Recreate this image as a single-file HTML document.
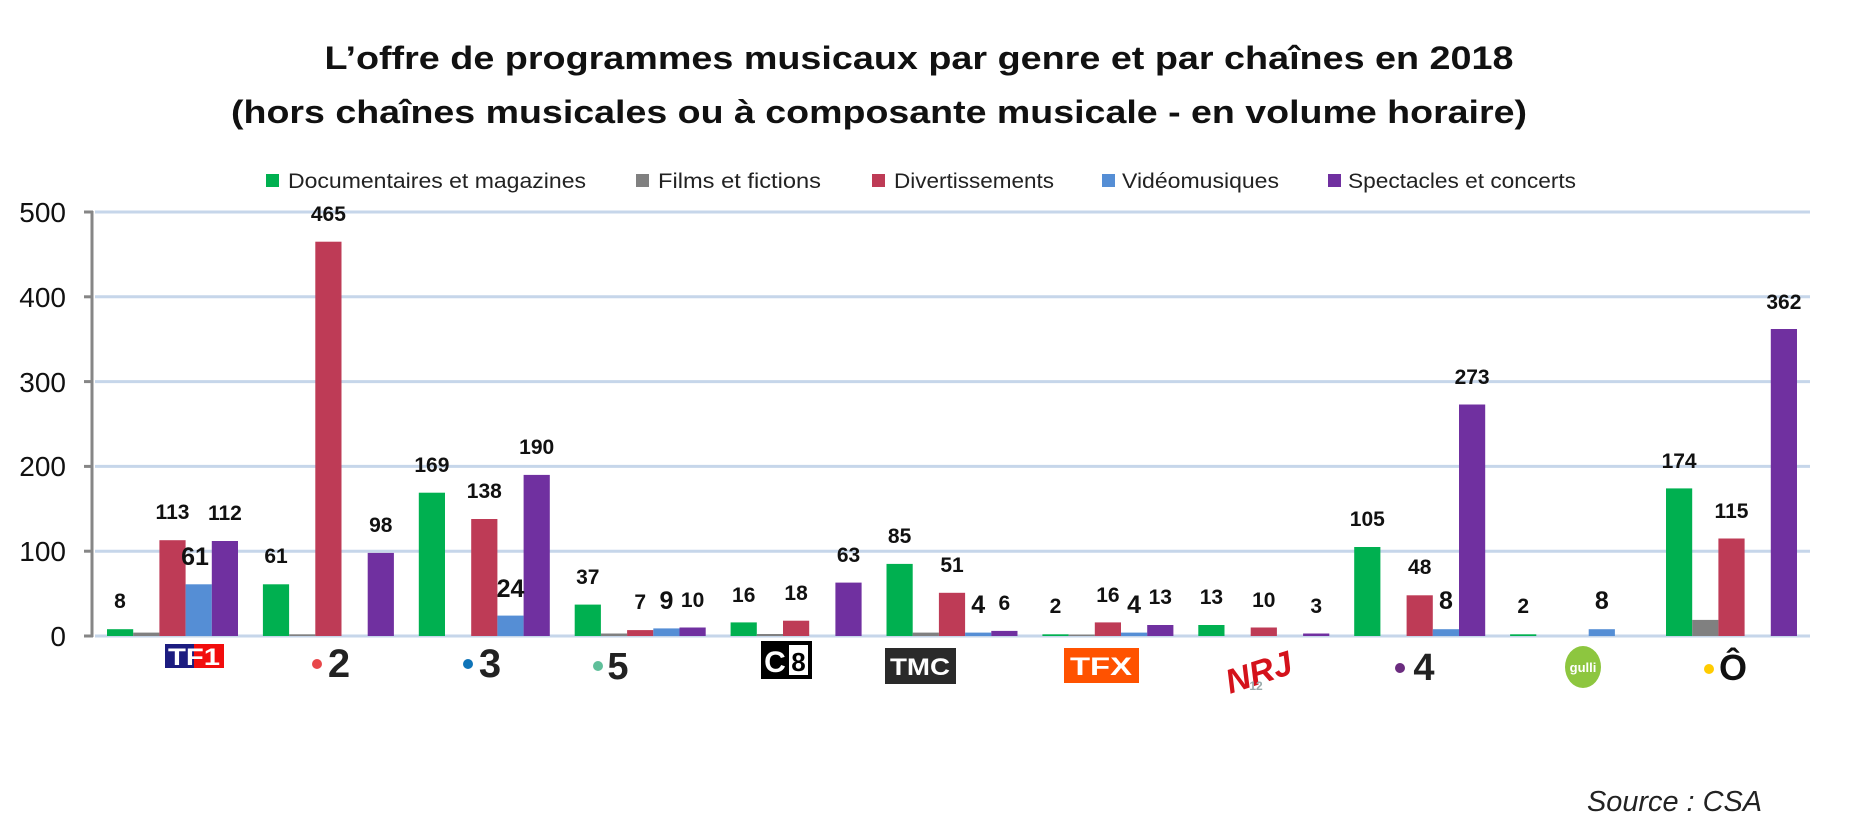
<!DOCTYPE html>
<html><head><meta charset="utf-8">
<style>
html,body{margin:0;padding:0;background:#fff;}
svg{display:block;}
text{font-family:"Liberation Sans",sans-serif;}
</style></head>
<body>
<svg width="1870" height="838" viewBox="0 0 1870 838" xmlns="http://www.w3.org/2000/svg">
<rect width="1870" height="838" fill="#fff"/>
<text x="919" y="69" font-size="32" font-weight="bold" text-anchor="middle" textLength="1189" lengthAdjust="spacingAndGlyphs" fill="#111">L’offre de programmes musicaux par genre et par chaînes en 2018</text>
<text x="879" y="123" font-size="32" font-weight="bold" text-anchor="middle" textLength="1296" lengthAdjust="spacingAndGlyphs" fill="#111">(hors chaînes musicales ou à composante musicale - en volume horaire)</text>
<g font-size="21" fill="#222">
<rect x="266" y="174" width="13" height="13" fill="#00b050"/><text x="288" y="188" textLength="298" lengthAdjust="spacingAndGlyphs">Documentaires et magazines</text>
<rect x="636" y="174" width="13" height="13" fill="#808080"/><text x="658" y="188" textLength="163" lengthAdjust="spacingAndGlyphs">Films et fictions</text>
<rect x="872" y="174" width="13" height="13" fill="#be3b56"/><text x="894" y="188" textLength="160" lengthAdjust="spacingAndGlyphs">Divertissements</text>
<rect x="1102" y="174" width="13" height="13" fill="#558ed5"/><text x="1122" y="188" textLength="157" lengthAdjust="spacingAndGlyphs">Vidéomusiques</text>
<rect x="1328" y="174" width="13" height="13" fill="#7030a0"/><text x="1348" y="188" textLength="228" lengthAdjust="spacingAndGlyphs">Spectacles et concerts</text>
</g>
<g stroke="#c6d6ea" stroke-width="3">
<line x1="95" y1="212" x2="1810" y2="212"/>
<line x1="95" y1="296.8" x2="1810" y2="296.8"/>
<line x1="95" y1="381.6" x2="1810" y2="381.6"/>
<line x1="95" y1="466.4" x2="1810" y2="466.4"/>
<line x1="95" y1="551.2" x2="1810" y2="551.2"/>
<line x1="95" y1="636" x2="1810" y2="636"/>
</g>
<g stroke="#868686" stroke-width="3">
<line x1="92" y1="211" x2="92" y2="637"/>
<line x1="84" y1="212" x2="93" y2="212"/>
<line x1="84" y1="296.8" x2="93" y2="296.8"/>
<line x1="84" y1="381.6" x2="93" y2="381.6"/>
<line x1="84" y1="466.4" x2="93" y2="466.4"/>
<line x1="84" y1="551.2" x2="93" y2="551.2"/>
<line x1="84" y1="636" x2="93" y2="636"/>
</g>
<g font-size="28" fill="#111" text-anchor="end">
<text x="66" y="222">500</text>
<text x="66" y="307">400</text>
<text x="66" y="392">300</text>
<text x="66" y="476">200</text>
<text x="66" y="561">100</text>
<text x="66" y="646">0</text>
</g>
<g>
<rect x="107" y="629.2" width="26.2" height="6.8" fill="#00b050"/>
<rect x="133.2" y="632.6" width="26.2" height="3.4" fill="#808080"/>
<rect x="159.4" y="540.2" width="26.2" height="95.8" fill="#be3b56"/>
<rect x="185.6" y="584.3" width="26.2" height="51.7" fill="#558ed5"/>
<rect x="211.8" y="541" width="26.2" height="95" fill="#7030a0"/>
<rect x="262.9" y="584.3" width="26.2" height="51.7" fill="#00b050"/>
<rect x="289.1" y="634.3" width="26.2" height="1.7" fill="#808080"/>
<rect x="315.3" y="241.7" width="26.2" height="394.3" fill="#be3b56"/>
<rect x="367.7" y="552.9" width="26.2" height="83.1" fill="#7030a0"/>
<rect x="418.8" y="492.7" width="26.2" height="143.3" fill="#00b050"/>
<rect x="471.2" y="519" width="26.2" height="117" fill="#be3b56"/>
<rect x="497.4" y="615.6" width="26.2" height="20.4" fill="#558ed5"/>
<rect x="523.6" y="474.9" width="26.2" height="161.1" fill="#7030a0"/>
<rect x="574.7" y="604.6" width="26.2" height="31.4" fill="#00b050"/>
<rect x="600.9" y="633.5" width="26.2" height="2.5" fill="#808080"/>
<rect x="627.1" y="630.1" width="26.2" height="5.9" fill="#be3b56"/>
<rect x="653.3" y="628.4" width="26.2" height="7.6" fill="#558ed5"/>
<rect x="679.5" y="627.5" width="26.2" height="8.5" fill="#7030a0"/>
<rect x="730.6" y="622.4" width="26.2" height="13.6" fill="#00b050"/>
<rect x="756.8" y="634" width="26.2" height="2" fill="#808080"/>
<rect x="783" y="620.7" width="26.2" height="15.3" fill="#be3b56"/>
<rect x="835.4" y="582.6" width="26.2" height="53.4" fill="#7030a0"/>
<rect x="886.5" y="563.9" width="26.2" height="72.1" fill="#00b050"/>
<rect x="912.7" y="632.6" width="26.2" height="3.4" fill="#808080"/>
<rect x="938.9" y="592.8" width="26.2" height="43.2" fill="#be3b56"/>
<rect x="965.1" y="632.6" width="26.2" height="3.4" fill="#558ed5"/>
<rect x="991.3" y="630.9" width="26.2" height="5.1" fill="#7030a0"/>
<rect x="1042.4" y="634.3" width="26.2" height="1.7" fill="#00b050"/>
<rect x="1068.6" y="634.5" width="26.2" height="1.5" fill="#808080"/>
<rect x="1094.8" y="622.4" width="26.2" height="13.6" fill="#be3b56"/>
<rect x="1121" y="632.6" width="26.2" height="3.4" fill="#558ed5"/>
<rect x="1147.2" y="625" width="26.2" height="11" fill="#7030a0"/>
<rect x="1198.3" y="625" width="26.2" height="11" fill="#00b050"/>
<rect x="1250.7" y="627.5" width="26.2" height="8.5" fill="#be3b56"/>
<rect x="1303.1" y="633.5" width="26.2" height="2.5" fill="#7030a0"/>
<rect x="1354.2" y="547" width="26.2" height="89" fill="#00b050"/>
<rect x="1406.6" y="595.3" width="26.2" height="40.7" fill="#be3b56"/>
<rect x="1432.8" y="629.2" width="26.2" height="6.8" fill="#558ed5"/>
<rect x="1459" y="404.5" width="26.2" height="231.5" fill="#7030a0"/>
<rect x="1510.1" y="634.3" width="26.2" height="1.7" fill="#00b050"/>
<rect x="1588.7" y="629.2" width="26.2" height="6.8" fill="#558ed5"/>
<rect x="1666" y="488.4" width="26.2" height="147.6" fill="#00b050"/>
<rect x="1692.2" y="619.9" width="26.2" height="16.1" fill="#808080"/>
<rect x="1718.4" y="538.5" width="26.2" height="97.5" fill="#be3b56"/>
<rect x="1770.8" y="329" width="26.2" height="307" fill="#7030a0"/>
</g>
<g font-size="21" font-weight="bold" fill="#111" text-anchor="middle">
<text x="120" y="608">8</text>
<text x="172.5" y="519">113</text>
<text x="224.9" y="520">112</text>
<text x="276" y="563">61</text>
<text x="328.4" y="221">465</text>
<text x="380.8" y="532">98</text>
<text x="431.9" y="472">169</text>
<text x="484.3" y="498">138</text>
<text x="536.7" y="454">190</text>
<text x="587.8" y="584">37</text>
<text x="640.2" y="609">7</text>
<text x="692.6" y="607">10</text>
<text x="743.7" y="602">16</text>
<text x="796.1" y="600">18</text>
<text x="848.5" y="562">63</text>
<text x="899.6" y="543">85</text>
<text x="952" y="572">51</text>
<text x="1004.4" y="610">6</text>
<text x="1055.5" y="613">2</text>
<text x="1107.9" y="602">16</text>
<text x="1160.3" y="604">13</text>
<text x="1211.4" y="604">13</text>
<text x="1263.8" y="607">10</text>
<text x="1316.2" y="613">3</text>
<text x="1367.3" y="526">105</text>
<text x="1419.7" y="574">48</text>
<text x="1472.1" y="384">273</text>
<text x="1523.2" y="613">2</text>
<text x="1679.1" y="468">174</text>
<text x="1731.5" y="518">115</text>
<text x="1783.9" y="309">362</text>
</g>
<g font-size="25" font-weight="bold" fill="#111" text-anchor="middle">
<text x="195" y="565">61</text>
<text x="510.5" y="597">24</text>
<text x="666.4" y="609">9</text>
<text x="978.2" y="613">4</text>
<text x="1134.1" y="613">4</text>
<text x="1445.9" y="609">8</text>
<text x="1601.8" y="609">8</text>
</g>
<g font-weight="bold">
<rect x="165" y="644" width="29" height="24" fill="#1c1c80"/>
<rect x="194" y="644" width="30" height="24" fill="#f20d0d"/>
<text x="194" y="665" font-size="24" fill="#fff" text-anchor="middle" textLength="52" lengthAdjust="spacingAndGlyphs">TF1</text>
<circle cx="317" cy="664" r="5" fill="#e8474a"/>
<text x="339" y="677" font-size="40" fill="#222" text-anchor="middle">2</text>
<circle cx="468" cy="664" r="5" fill="#0f74b8"/>
<text x="490" y="677" font-size="40" fill="#222" text-anchor="middle">3</text>
<circle cx="598" cy="666" r="5" fill="#5fbf9a"/>
<text x="618" y="679" font-size="38" fill="#222" text-anchor="middle">5</text>
<rect x="761" y="641" width="51" height="38" fill="#000"/>
<text x="775" y="672" font-size="30" fill="#fff" text-anchor="middle">C</text>
<rect x="789" y="645" width="19" height="30" fill="#fff"/>
<text x="798.5" y="671" font-size="26" fill="#000" text-anchor="middle">8</text>
<rect x="885" y="648" width="71" height="36" fill="#2a2a2a"/>
<text x="920" y="675" font-size="24" fill="#fff" text-anchor="middle" textLength="60" lengthAdjust="spacingAndGlyphs">TMC</text>
<rect x="1064" y="648" width="75" height="35" fill="#ff5200"/>
<text x="1101" y="675" font-size="25" fill="#fff" text-anchor="middle" textLength="62" lengthAdjust="spacingAndGlyphs">TFX</text>
<text x="1258" y="684" font-size="34" fill="#d4121b" font-style="italic" text-anchor="middle" transform="rotate(-18 1258 670)">NRJ</text>
<text x="1256" y="690" font-size="12" fill="#9aa" text-anchor="middle">12</text>
<circle cx="1400" cy="668" r="5" fill="#6b2c7f"/>
<text x="1424" y="680" font-size="38" fill="#222" text-anchor="middle">4</text>
<ellipse cx="1583" cy="667" rx="18" ry="21" fill="#8dc63f"/>
<text x="1583" y="672" font-size="13" fill="#fff" text-anchor="middle">gulli</text>
<circle cx="1709" cy="669" r="5" fill="#ffcc00"/>
<text x="1733" y="680" font-size="36" fill="#111" text-anchor="middle">Ô</text>
</g>
<text x="1587" y="811" font-size="29" font-style="italic" fill="#222" textLength="175" lengthAdjust="spacingAndGlyphs">Source : CSA</text>
</svg>
</body></html>
